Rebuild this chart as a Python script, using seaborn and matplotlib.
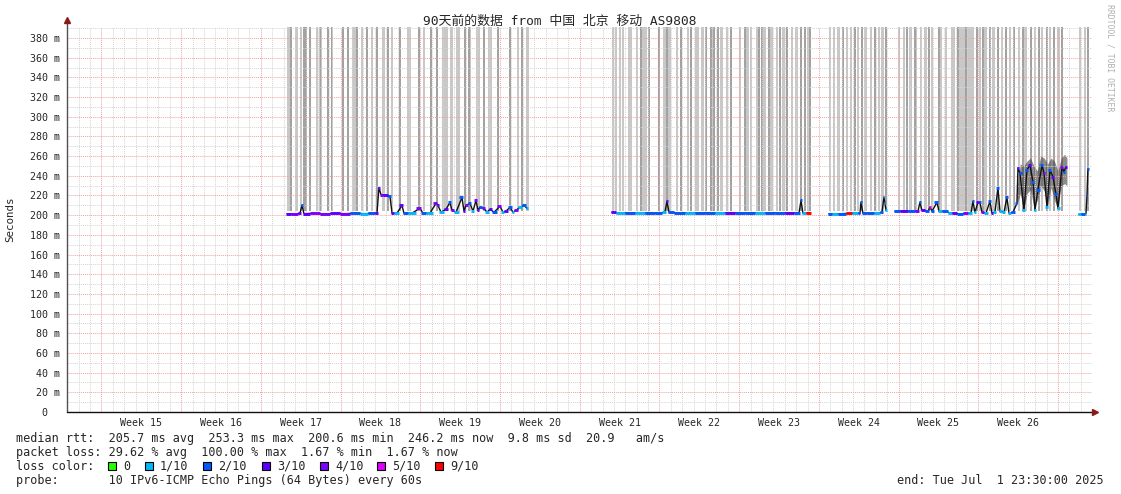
import matplotlib
matplotlib.use("Agg")
import matplotlib.pyplot as plt
from matplotlib.patches import Rectangle
import seaborn as sns
import pandas as pd

# loss legend
loss_labels = ["0", "1/10", "2/10", "3/10", "4/10", "5/10", "9/10"]
loss_colors = ["#26ff00", "#00b8ff", "#0059ff", "#5e00ff", "#7e00ff", "#dd00ff", "#ff0000"]

week_names = ["Week %d" % w for w in range(15, 27)]
first_week_start = 3.02   # days after graph start (Sun 00:00)
y_ticks = list(range(0, 381, 20))
y_top = 391.2

# median rtt: day since start, value in ms, loss colour index
seg1_day = [19.32, 20.02, 20.46, 20.63, 20.81, 21.78, 22.65, 23.53, 24.41, 25.29, 26.16, 26.78,
            27.22, 27.39, 27.57, 28.01, 28.36, 28.54, 28.97, 29.41, 29.59, 30.29, 30.99, 31.26,
            31.87, 32.40, 32.57, 32.84, 33.28, 33.63, 33.80, 34.16, 34.68, 34.86, 35.03, 35.38,
            35.65, 35.91, 36.09, 36.26, 36.61, 36.88, 37.14, 37.49, 38.02, 38.28, 38.54, 38.90,
            39.16, 39.42, 39.78, 40.13, 40.39]
seg1_ms = [201.5, 201, 202, 210, 201.5, 202, 201, 202, 201.5, 202, 201.5, 202,
           202, 228, 221, 220, 219, 202, 202, 210, 202, 202, 207, 202,
           202, 212, 210, 203, 206, 213, 205, 203, 218, 204, 210, 212,
           204, 215, 205, 208, 207, 203, 206, 203, 209, 203, 204, 208,
           203, 205, 208, 210, 207]
seg1_loss = [3, 4, 3, 2, 3, 4, 4, 3, 4, 2, 1, 2,
             3, 3, 4, 3, 2, 3, 1, 3, 2, 1, 4, 2,
             1, 4, 3, 1, 3, 2, 4, 1, 2, 3, 4, 2,
             1, 4, 3, 2, 4, 1, 3, 2, 4, 1, 3, 2,
             1, 4, 1, 2, 1]

seg2_day = [47.85, 48.55, 49.43, 50.31, 51.19, 52.07, 52.50, 52.68, 52.86, 53.82, 54.70, 55.58,
            56.46, 57.33, 58.21, 59.09, 59.97, 60.85, 61.73, 62.60, 63.48, 64.27, 64.45, 64.62,
            65.24]
seg2_ms = [203, 202, 202.5, 202, 202.5, 202, 203, 214, 203, 202, 202.5, 202,
           202.5, 202, 202.5, 202, 202.5, 202, 202.5, 202, 202.5, 202, 215, 202,
           202.5]
seg2_loss = [3, 1, 2, 1, 2, 2, 1, 3, 2, 2, 1, 2,
             2, 1, 3, 2, 2, 1, 2, 2, 3, 2, 2, 1,
             6]

seg3_day = [66.90, 67.43, 68.05, 68.75, 69.19, 69.63, 69.71, 69.89, 70.51, 71.21, 71.56, 71.73,
            71.82, 71.91]
seg3_ms = [201.5, 201, 201.5, 202, 202, 202, 213, 202, 202, 202, 203, 218,
           212, 205]
seg3_loss = [2, 1, 2, 6, 1, 2, 2, 2, 2, 1, 2, 2,
             1, 1]

seg4_day = [72.70, 73.58, 74.19, 74.72, 74.89, 75.07, 75.60, 75.77, 75.95, 76.39, 76.56, 77.18,
            77.53, 77.97, 78.41, 78.93, 79.37, 79.55, 79.72, 79.99, 80.16, 80.34, 80.69, 81.04,
            81.22, 81.48, 81.74, 81.92, 82.27, 82.53, 82.71, 83.06, 83.41, 83.50, 83.67, 84.03,
            84.29, 84.55, 84.82, 84.99, 85.25, 85.61, 85.78, 86.05, 86.31, 86.57, 86.83, 87.01,
            87.36, 87.54, 87.71]
seg4_ms = [204, 204.5, 204, 204, 213, 205, 204, 208, 204, 213, 204, 204,
           202, 202, 201, 202, 202, 214, 203, 213, 213, 203, 202, 214,
           202, 203, 228, 204, 203, 218, 202, 203, 212, 248, 243, 205,
           246, 251, 234, 205, 226, 251, 243, 208, 246, 239, 222, 207,
           249, 244, 249]
seg4_loss = [2, 3, 2, 4, 2, 3, 2, 5, 2, 2, 1, 2,
             1, 3, 2, 4, 1, 2, 1, 3, 2, 4, 1, 2,
             3, 1, 2, 1, 1, 2, 1, 2, 2, 3, 2, 1,
             2, 3, 2, 1, 2, 2, 4, 1, 2, 3, 2, 1,
             4, 2, 3]

seg5_day = [88.85, 89.29, 89.47, 89.56, 89.64]
seg5_ms = [201, 201, 201.5, 220, 247]
seg5_loss = [1, 2, 1, 2, 2]

# smoke columns running off the top of the graph (centre day, width in days)
light_day = [19.45, 20.11, 20.55, 21.95, 22.30, 23.27, 25.20, 25.90, 26.78, 27.83, 28.54, 30.07,
             31.34, 33.19, 33.80, 34.33, 35.38, 36.13, 37.18, 39.60, 40.43,
             47.94, 48.20, 48.55, 48.82, 49.43, 50.05, 50.57, 50.84, 52.50, 52.94, 53.56, 54.52,
             55.31, 55.84, 56.63, 57.47, 57.95, 59.09, 59.75, 60.06, 60.58, 61.28, 61.90, 62.34,
             62.95, 63.66, 64.09, 65.10,
             66.99, 67.34, 67.78, 68.48, 68.84, 69.45, 70.15, 70.59, 71.29, 71.64,
             73.05, 73.49, 74.10, 74.54, 74.98, 75.42, 75.95, 76.74, 77.18, 77.79, 78.58, 79.37,
             80.16, 80.69, 81.39, 82.09, 82.80, 83.59, 84.20, 84.99, 85.61, 86.31, 87.10,
             88.94, 89.38]
light_w = [0.26, 0.26, 0.18, 0.26, 0.26, 0.18, 0.35, 0.18, 0.26, 0.26, 0.18, 0.35,
           0.18, 0.44, 0.26, 0.35, 0.18, 0.35, 0.35, 0.18, 0.26,
           0.18, 0.18, 0.18, 0.18, 0.35, 0.26, 0.35, 0.26, 0.26, 0.26, 0.26, 0.18,
           0.35, 0.26, 0.26, 0.26, 0.18, 0.18, 0.26, 0.26, 0.18, 0.26, 0.26, 0.18,
           0.26, 0.18, 0.26, 0.26,
           0.18, 0.18, 0.26, 0.18, 0.26, 0.18, 0.26, 0.18, 0.18, 0.26,
           0.18, 0.18, 0.26, 0.18, 0.18, 0.26, 0.18, 0.18, 0.26, 0.35, 0.53, 0.61,
           0.18, 0.26, 0.26, 0.18, 0.26, 0.18, 0.26, 0.18, 0.26, 0.18, 0.26,
           0.18, 0.18]
dark_day = [19.67, 20.81, 20.98, 21.34, 22.26, 22.92, 23.22, 24.23, 24.67, 25.46, 26.34, 27.22,
            28.18, 29.24, 30.91, 31.96, 32.49, 34.94, 35.30, 36.61, 37.84, 38.90, 39.95,
            50.40, 51.10, 51.98, 52.68, 53.91, 54.79, 56.10, 56.54, 56.81, 57.16, 58.30, 59.53,
            60.76, 61.02, 61.64, 62.60, 63.22, 64.45, 64.80, 65.24,
            68.13, 69.19, 69.80, 70.94, 71.91,
            73.75, 74.45, 75.68, 76.56, 78.23, 78.93, 79.90, 80.42, 81.04, 81.74, 82.44, 83.15,
            83.94, 84.64, 85.34, 86.05, 86.66, 87.36,
            89.64]
dark_w = 0.12

# heavy smoke over the last week
tail_day = [83.41, 83.70, 84.00, 84.30, 84.60, 84.90, 85.20, 85.50, 85.80, 86.10, 86.40, 86.70,
            87.00, 87.30, 87.60, 87.80]
tail_lo = [210, 222, 206, 222, 226, 208, 215, 230, 225, 208, 228, 215, 207, 230, 232, 230]
tail_hi = [226, 252, 250, 255, 258, 250, 245, 260, 258, 252, 258, 255, 245, 258, 262, 258]

segments = [(seg1_day, seg1_ms, seg1_loss), (seg2_day, seg2_ms, seg2_loss),
            (seg3_day, seg3_ms, seg3_loss), (seg4_day, seg4_ms, seg4_loss),
            (seg5_day, seg5_ms, seg5_loss)]
rows = []
for i, (d, v, l) in enumerate(segments):
    for a, b, c in zip(d, v, l):
        rows.append({"day": a, "ms": b, "loss": c, "seg": i})
df = pd.DataFrame(rows)

sns.set_style("white")
mono = ["DejaVu Sans Mono", "Noto Sans CJK SC"]
plt.rcParams["font.family"] = mono

W, H = 1121, 494
fig = plt.figure(figsize=(W / 100, H / 100), dpi=100)
x0, x1, yb, yt = 67, 1092, 412, 27
ax = fig.add_axes([x0 / W, (H - yb) / H, (x1 - x0) / W, (yb - yt) / H])
ax.set_xlim(0, 90)
ax.set_ylim(0, y_top)

# grid (drawn over the smoke like rrdtool does)
red_grid = "#f4a0a0"
gray_grid = "#d4d4d4"
for k in range(91):
    x = 0.02 + k
    if x > 90:
        break
    major = (k - 3) % 7 == 0
    ax.axvline(x, color=red_grid if major else gray_grid, lw=0.7,
               ls=(0, (1, 1)), zorder=2.5)
for v in range(10, 391, 10):
    ax.axhline(v, color=red_grid if v % 20 == 0 else gray_grid, lw=0.7,
               ls=(0, (1, 1)), zorder=2.5)

# smoke
ax.bar(light_day, y_top - 204, width=light_w, bottom=204, color="#c8c8c8",
       linewidth=0, zorder=1)
ax.bar(dark_day, y_top - 204, width=dark_w, bottom=204, color="#a2a2a2",
       linewidth=0, zorder=1.2)
ax.fill_between(tail_day, tail_lo, tail_hi, color="#404040", alpha=0.6,
                linewidth=0, zorder=2)

# median line
sns.lineplot(data=df, x="day", y="ms", units="seg", estimator=None, sort=False,
             color="#111111", lw=1.0, ax=ax, zorder=3, legend=False)

# loss coloured median strokes
for d, v, l in segments:
    n = len(d)
    for i in range(n):
        left = (d[i] + d[i - 1]) / 2 if i > 0 else d[i] - 0.1
        right = (d[i] + d[i + 1]) / 2 if i < n - 1 else d[i] + 0.1
        ax.hlines(v[i], left, right, colors=loss_colors[l[i]], lw=2.1, zorder=4)

ax.set_xlabel("")
ax.set_ylabel("")

# axes
for s in ax.spines.values():
    s.set_visible(False)
ax.plot([0, 0], [0, 1 + 5 / 385], color="#505050", lw=1, transform=ax.transAxes,
        clip_on=False, zorder=5)
ax.plot([0, 1 + 3 / 1025], [0, 0], color="#111111", lw=1, transform=ax.transAxes,
        clip_on=False, zorder=5)
ax.plot(0, 1 + 7 / 385, marker="^", ms=4, color="#8b1a1a", transform=ax.transAxes,
        clip_on=False, zorder=6)
ax.plot(1 + 3 / 1025, 0, marker=">", ms=4, color="#8b1a1a", transform=ax.transAxes,
        clip_on=False, zorder=6)

ax.set_yticks(y_ticks)
ax.set_yticklabels(["%d m" % v if v else "0  " for v in y_ticks])
ax.tick_params(axis="y", length=3, width=0.8, color="#a05050", pad=2, labelsize=7.2)

majors = [first_week_start + 7 * k for k in range(13)]
ax.set_xticks(majors)
ax.set_xticklabels([""] * len(majors))
ax.set_xticks([m + 3.5 for m in majors[:12]], minor=True)
ax.set_xticklabels(week_names, minor=True)
ax.tick_params(axis="x", which="major", length=3, width=0.8, color="#a05050")
ax.tick_params(axis="x", which="minor", length=0, pad=4, labelsize=7.2)

# texts
fig.text(560 / W, 1 - 21 / H, "90天前的数据 from 中国 北京 移动 AS9808", ha="center",
         va="center", fontsize=9.3, family=mono)
fig.text(10 / W, 1 - 219 / H, "Seconds", rotation=90, ha="center", va="center",
         fontsize=7.8)
fig.text(1110 / W, 1 - 4 / H, "RRDTOOL / TOBI OETIKER", rotation=270, ha="center",
         va="top", fontsize=5.9, color="#b0b0b0")

fs = 8.5
legend_lines = [
    (438, "median rtt:  205.7 ms avg  253.3 ms max  200.6 ms min  246.2 ms now  9.8 ms sd  20.9   am/s"),
    (452, "packet loss: 29.62 % avg  100.00 % max  1.67 % min  1.67 % now"),
    (466, "loss color:"),
    (480, "probe:       10 IPv6-ICMP Echo Pings (64 Bytes) every 60s"),
]
for y, t in legend_lines:
    fig.text(16 / W, 1 - y / H, t, ha="left", va="center", fontsize=fs)
fig.text(1104 / W, 1 - 480 / H, "end: Tue Jul  1 23:30:00 2025", ha="right",
         va="center", fontsize=fs)

box_x = [108, 145, 203, 262, 320, 377, 435]
for bx, lab, col in zip(box_x, loss_labels, loss_colors):
    fig.patches.append(Rectangle((bx / W, 1 - 470 / H), 8 / W, 8 / H, transform=fig.transFigure,
                                 facecolor=col, edgecolor="black", lw=0.8, figure=fig))
    fig.text((bx + 15) / W, 1 - 466 / H, lab, ha="left", va="center", fontsize=fs)

fig.savefig("out.png", dpi=100)
